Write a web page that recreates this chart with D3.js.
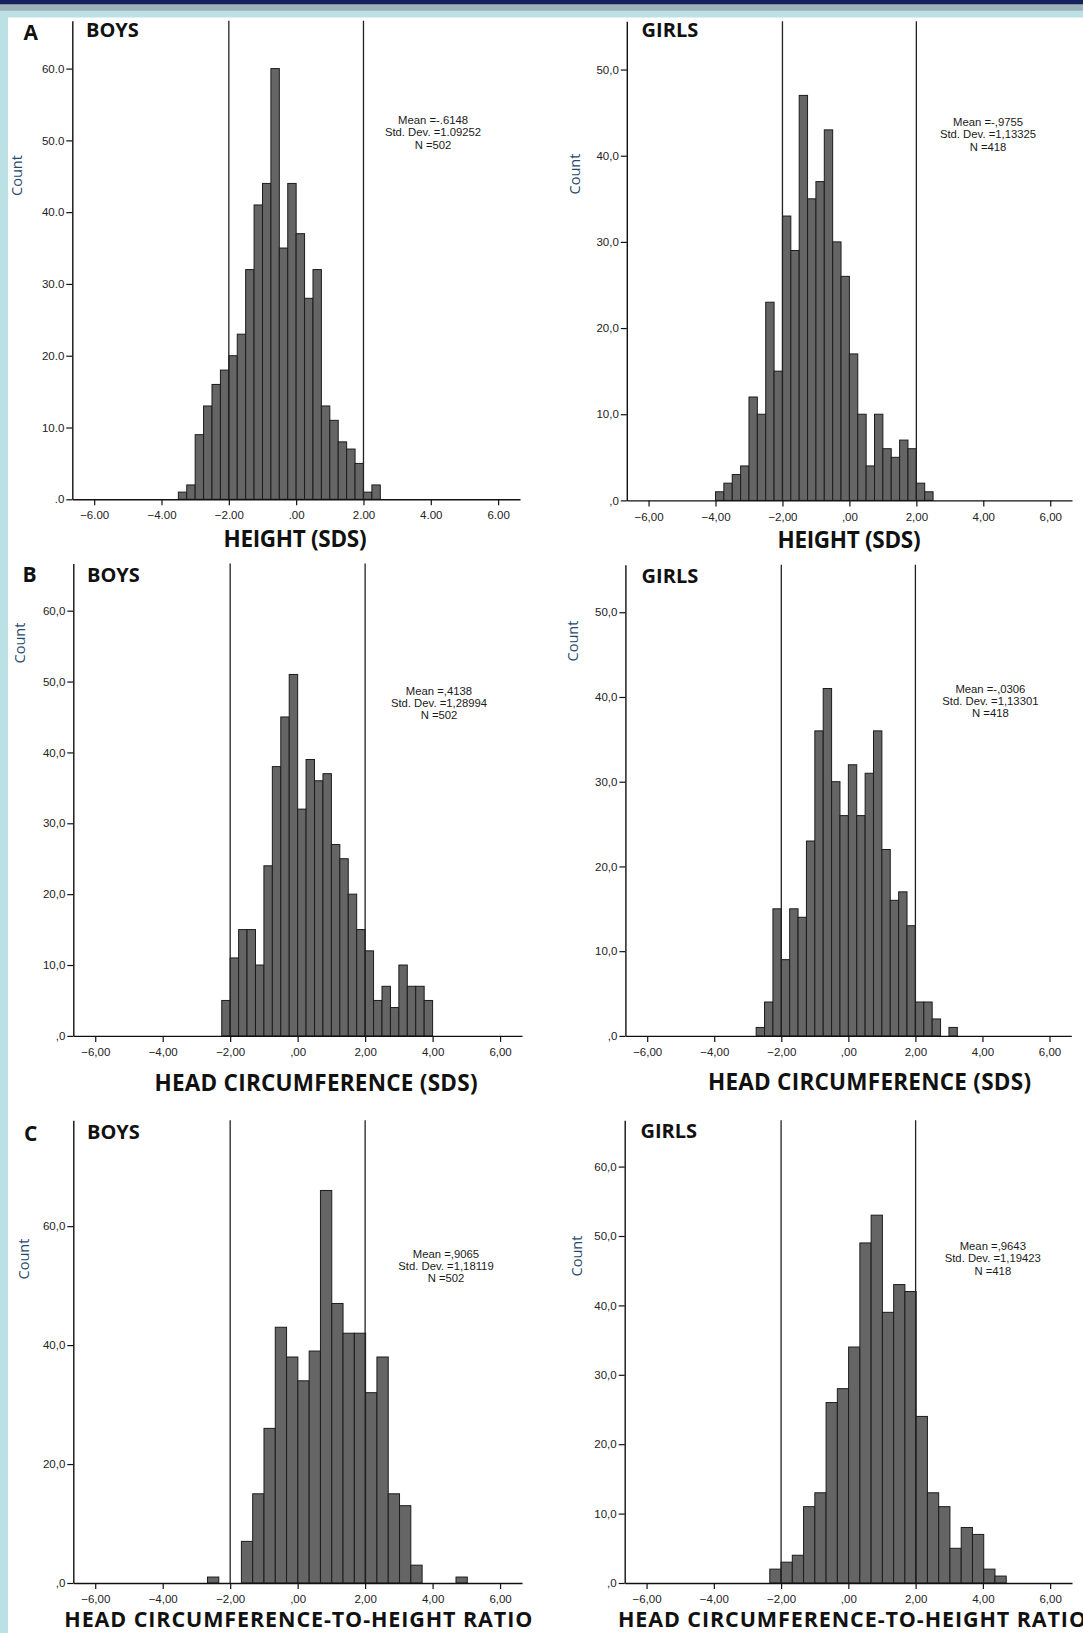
<!DOCTYPE html>
<html>
<head>
<meta charset="utf-8">
<script src="https://cdn.jsdelivr.net/npm/d3@7"></script>
<style>
  html, body { margin: 0; padding: 0; background: #fff; }
  svg { display: block; }
</style>
</head>
<body>
<div id="chart"></div>
<script>
// counts per bin
const heightBoysCounts = [1, 2, 9, 13, 16, 18, 20, 23, 32, 41, 44, 60, 35, 44, 37, 28, 32, 13, 11, 8, 7, 5, 1, 2];
const heightGirlsCounts = [1, 2, 3, 4, 12, 10, 23, 15, 33, 29, 47, 35, 37, 43, 30, 26, 17, 10, 4, 10, 6, 5, 7, 6, 2, 1];
const headBoysCounts = [5, 11, 15, 15, 10, 24, 38, 45, 51, 32, 39, 36, 37, 27, 25, 20, 15, 12, 5, 7, 4, 10, 7, 7, 5];
const headGirlsCounts = [1, 4, 15, 9, 15, 14, 23, 36, 41, 30, 26, 32, 26, 31, 36, 22, 16, 17, 13, 4, 4, 2, 0, 1];
const ratioBoysCounts = [1, 0, 0, 7, 15, 26, 43, 38, 34, 39, 66, 47, 42, 42, 32, 38, 15, 13, 3, 0, 0, 0, 1];
const ratioGirlsCounts = [2, 3, 4, 11, 13, 26, 28, 34, 49, 53, 39, 43, 42, 24, 13, 11, 5, 8, 7, 2, 1];

// first bin edge and bin width (SDS units)
const heightBoysBins = [-3.5, 0.25];
const heightGirlsBins = [-4.0, 0.25];
const headBoysBins = [-2.25, 0.25];
const headGirlsBins = [-2.75, 0.25];
const ratioBoysBins = [-2.672, 0.3348];
const ratioGirlsBins = [-2.336, 0.3348];

const xTicks = [-6, -4, -2, 0, 2, 4, 6];
const yTicks60 = [0, 10, 20, 30, 40, 50, 60];
const yTicks50 = [0, 10, 20, 30, 40, 50];
const yTicksWide = [0, 20, 40, 60];
const refLines = [-2, 2];

const statsHeightBoys = ["Mean =-.6148", "Std. Dev. =1.09252", "N =502"];
const statsHeightGirls = ["Mean =-,9755", "Std. Dev. =1,13325", "N =418"];
const statsHeadBoys = ["Mean =,4138", "Std. Dev. =1,28994", "N =502"];
const statsHeadGirls = ["Mean =-,0306", "Std. Dev. =1,13301", "N =418"];
const statsRatioBoys = ["Mean =,9065", "Std. Dev. =1,18119", "N =502"];
const statsRatioGirls = ["Mean =,9643", "Std. Dev. =1,19423", "N =418"];

const panelLetters = ["A", "B", "C"];
const groupLabels = ["BOYS", "GIRLS"];
const axisTitles = ["HEIGHT (SDS)", "HEAD CIRCUMFERENCE (SDS)", "HEAD CIRCUMFERENCE-TO-HEIGHT RATIO"];

const W = 1083, H = 1633;
const barFill = "#656565";
const barStroke = "#1c1c1c";
const inkColor = "#111";
const countColor = "#27496d";

// pixel layout of the six plots
const panels = [
  { counts: heightBoysCounts, bins: heightBoysBins, yTicks: yTicks60, yMax: 66.67, stats: statsHeightBoys, dot: true,
    left: 72.3, right: 520, top: 20.7, base: 499.3, statsX: 433, statsY: 120.2, countX: 16, countY: 175.5,
    title: 0, titleX: 295, titleY: 547, titleW: 143, titleSize: 22.5 },
  { counts: heightGirlsCounts, bins: heightGirlsBins, yTicks: yTicks50, yMax: 55.6, stats: statsHeightGirls, dot: false,
    left: 626.8, right: 1072, top: 21.3, base: 500.4, statsX: 988, statsY: 122.2, countX: 574.4, countY: 174,
    title: 0, titleX: 849, titleY: 548, titleW: 143, titleSize: 22.5 },
  { counts: headBoysCounts, bins: headBoysBins, yTicks: yTicks60, yMax: 66.67, stats: statsHeadBoys, dot: false,
    left: 73.3, right: 522, top: 563.4, base: 1035.9, statsX: 439, statsY: 690.8, countX: 19, countY: 643,
    title: 1, titleX: 316, titleY: 1091, titleW: 323, titleSize: 22.5 },
  { counts: headGirlsCounts, bins: headGirlsBins, yTicks: yTicks50, yMax: 55.6, stats: statsHeadGirls, dot: false,
    left: 625.4, right: 1071.3, top: 564.8, base: 1035.9, statsX: 990.4, statsY: 688.8, countX: 572.7, countY: 641,
    title: 1, titleX: 869.5, titleY: 1090, titleW: 323, titleSize: 22.5 },
  { counts: ratioBoysCounts, bins: ratioBoysBins, yTicks: yTicksWide, yMax: 77.8, stats: statsRatioBoys, dot: false,
    left: 73.3, right: 522, top: 1120.3, base: 1583, statsX: 446, statsY: 1253.6, countX: 23.4, countY: 1259,
    title: 2, titleX: 298.3, titleY: 1627, titleW: 468, titleSize: 21.5 },
  { counts: ratioGirlsCounts, bins: ratioGirlsBins, yTicks: yTicks60, yMax: 66.67, stats: statsRatioGirls, dot: false,
    left: 624.7, right: 1072, top: 1120.3, base: 1583, statsX: 992.8, statsY: 1246, countX: 576, countY: 1256,
    title: 2, titleX: 852, titleY: 1627, titleW: 468, titleSize: 21.5 }
];
const letterPos = [[23.4, 40.3], [22.4, 582.4], [24, 1140.6]];
const groupPos = [[[86, 37.2], [641.6, 37.2]], [[87, 582], [641.6, 583]], [[87, 1139.2], [640.5, 1137.5]]];

const svg = d3.select("#chart").append("svg")
  .attr("width", W).attr("height", H)
  .attr("viewBox", `0 0 ${W} ${H}`);

svg.append("rect").attr("width", W).attr("height", H).attr("fill", "#fff");

// slide frame
svg.append("rect").attr("x", 0).attr("y", 0).attr("width", W).attr("height", 17.5).attr("fill", "#bbe1e5");
svg.append("rect").attr("x", 0).attr("y", 0).attr("width", 8).attr("height", H).attr("fill", "#bbe1e5");
svg.append("rect").attr("x", 0).attr("y", 4.3).attr("width", W).attr("height", 6.4).attr("fill", "#9eb3b8");
svg.append("rect").attr("x", 0).attr("y", 0).attr("width", W).attr("height", 4.3).attr("fill", "#171f5c");

function makeFormat(decimals, dot) {
  const f = d3.format(`.${decimals}f`);
  return (v) => {
    let s = f(v).replace(/^(-?)0\./, "$1.");
    return dot ? s : s.replace(".", ",");
  };
}

function drawPanel(p, idx) {
  const x = d3.scaleLinear().domain([-6.65, 6.65]).range([p.left, p.right]);
  const y = d3.scaleLinear().domain([0, p.yMax]).range([p.base, p.top]);
  const g = svg.append("g").attr("class", `panel-${idx}`);

  const bars = p.counts
    .map((c, i) => ({ x0: p.bins[0] + i * p.bins[1], x1: p.bins[0] + (i + 1) * p.bins[1], c }))
    .filter((d) => d.c > 0);

  g.selectAll("rect.bar")
    .data(bars)
    .join("rect")
    .attr("class", "bar")
    .attr("x", (d) => x(d.x0))
    .attr("width", (d) => x(d.x1) - x(d.x0))
    .attr("y", (d) => y(d.c))
    .attr("height", (d) => y(0) - y(d.c))
    .attr("fill", barFill)
    .attr("stroke", barStroke)
    .attr("stroke-width", 1);

  // reference lines at -2 and +2 SDS
  g.selectAll("line.ref")
    .data(refLines)
    .join("line")
    .attr("class", "ref")
    .attr("x1", (d) => x(d)).attr("x2", (d) => x(d))
    .attr("y1", y.range()[1]).attr("y2", y(0))
    .attr("stroke", "#222")
    .attr("stroke-width", 1.3);

  // axes
  const yAxis = g.append("g")
    .attr("transform", `translate(${p.left},0)`)
    .call(d3.axisLeft(y).tickValues(p.yTicks).tickSize(6).tickSizeOuter(0).tickPadding(2)
      .tickFormat(makeFormat(1, p.dot)));
  const xAxis = g.append("g")
    .attr("transform", `translate(0,${p.base})`)
    .call(d3.axisBottom(x).tickValues(xTicks).tickSize(6).tickSizeOuter(0).tickPadding(6)
      .tickFormat(makeFormat(2, p.dot)));

  [yAxis, xAxis].forEach((a) => {
    a.select(".domain").attr("stroke", "#111").attr("stroke-width", 1.4);
    a.selectAll(".tick line").attr("stroke", "#111").attr("stroke-width", 1.2);
    a.selectAll(".tick text")
      .attr("fill", "#222")
      .style("font-family", "'Liberation Sans', Arial, sans-serif")
      .style("font-size", "11.5px");
  });

  // summary statistics
  g.append("text")
    .attr("x", p.statsX)
    .attr("y", p.statsY)
    .attr("text-anchor", "middle")
    .attr("fill", "#1a1a1a")
    .style("font-family", "'Liberation Sans', Arial, sans-serif")
    .style("font-size", "11.3px")
    .selectAll("tspan")
    .data(p.stats)
    .join("tspan")
    .attr("x", p.statsX)
    .attr("dy", (d, i) => (i === 0 ? "0.35em" : "12.3px"))
    .text((d) => d);

  // "Count" y label
  g.append("text")
    .attr("transform", `translate(${p.countX},${p.countY}) rotate(-90)`)
    .attr("text-anchor", "middle")
    .attr("dominant-baseline", "central")
    .attr("fill", countColor)
    .style("font-family", "'Open Sans', sans-serif")
    .style("font-size", "14.5px")
    .text("Count");

  // axis title
  g.append("text")
    .attr("x", p.titleX)
    .attr("y", p.titleY)
    .attr("text-anchor", "middle")
    .attr("textLength", p.titleW)
    .attr("fill", inkColor)
    .style("font-family", "'Open Sans', sans-serif")
    .style("font-weight", "bold")
    .style("font-size", `${p.titleSize}px`)
    .text(axisTitles[p.title]);
}

panels.forEach(drawPanel);

// panel letters and group labels
panelLetters.forEach((l, i) => {
  svg.append("text")
    .attr("x", letterPos[i][0]).attr("y", letterPos[i][1])
    .attr("fill", inkColor)
    .style("font-family", "'Open Sans', sans-serif")
    .style("font-weight", "bold")
    .style("font-size", "21px")
    .text(l);
  groupLabels.forEach((gl, j) => {
    svg.append("text")
      .attr("x", groupPos[i][j][0]).attr("y", groupPos[i][j][1])
      .attr("fill", inkColor)
      .style("font-family", "'Open Sans', sans-serif")
      .style("font-weight", "bold")
      .style("font-size", "20px")
      .text(gl);
  });
});
</script>
</body>
</html>
